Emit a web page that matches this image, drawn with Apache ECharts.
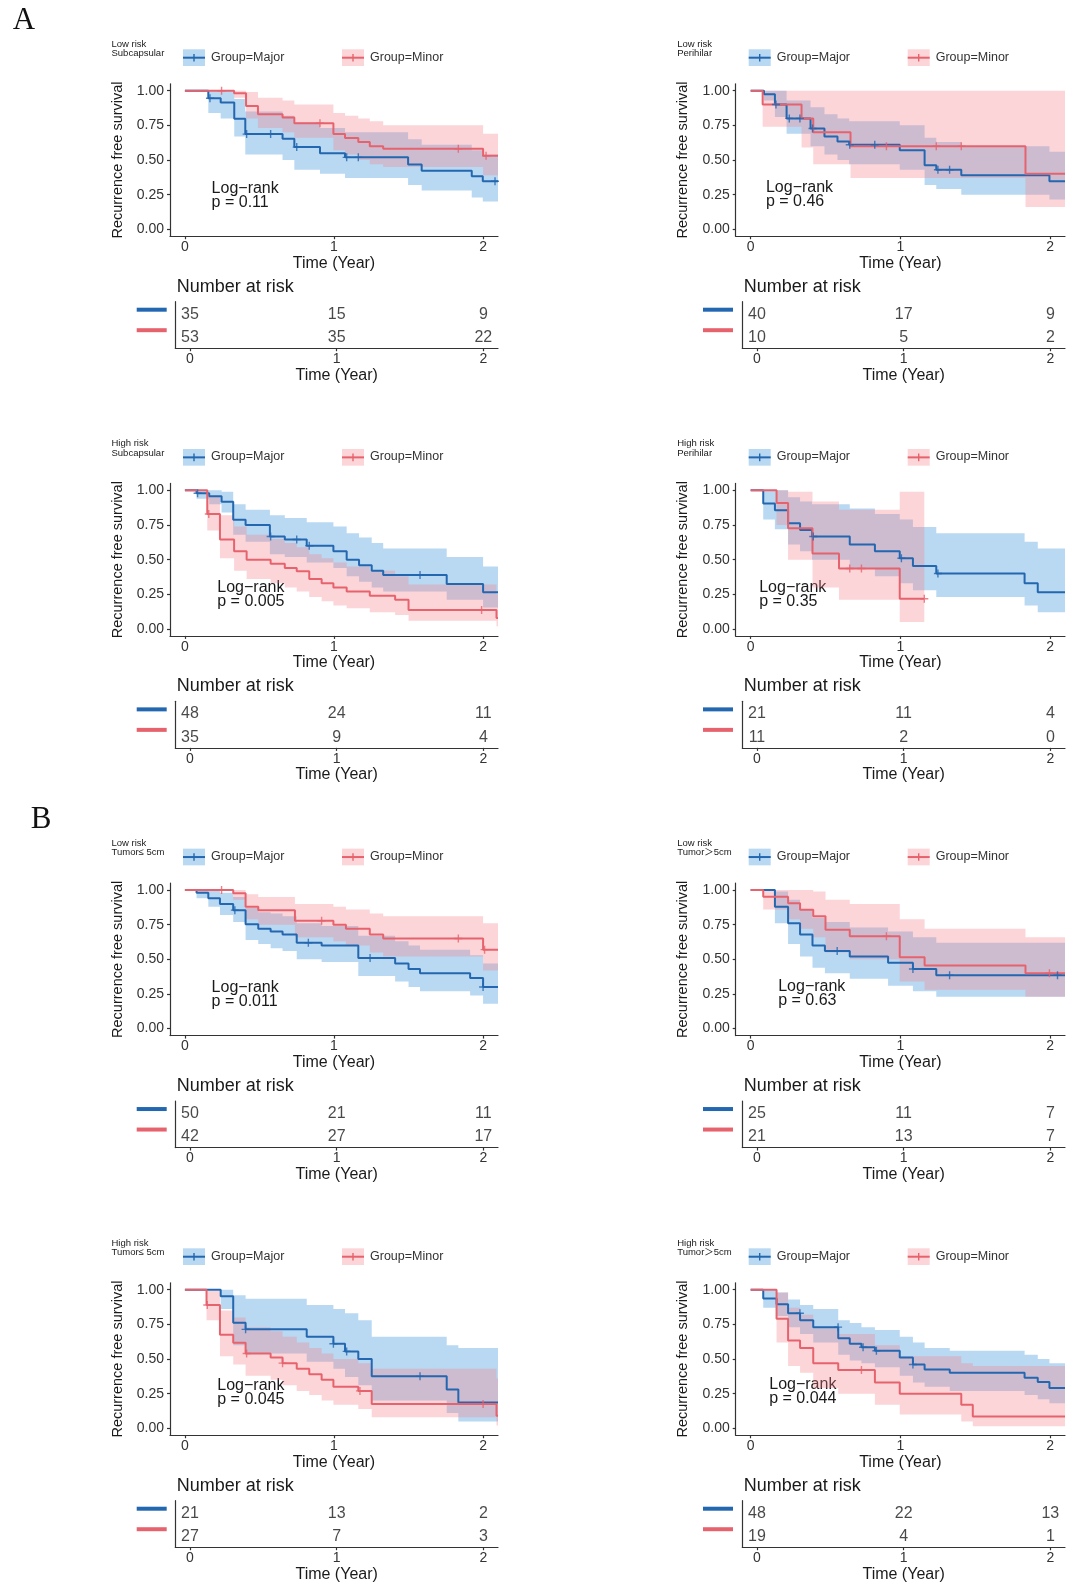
<!DOCTYPE html>
<html>
<head>
<meta charset="utf-8">
<script src="https://cdn.jsdelivr.net/npm/echarts@6/dist/echarts.min.js"></script>
<style>html,body{margin:0;padding:0;background:#fff}#c{width:1080px;height:1591px}</style>
</head>
<body>
<div id="c"></div>
<script>
// ---------------- DATA ----------------
const timeTicks = [0, 1, 2];
const survTicks = [0, 0.25, 0.5, 0.75, 1];
const riskGroups = ['Major', 'Minor'];
const subtitles = [
  ['Low risk', 'Subcapsular'], ['Low risk', 'Perihilar'],
  ['High risk', 'Subcapsular'], ['High risk', 'Perihilar'],
  ['Low risk', 'Tumor\u2264 5cm'], ['Low risk', 'Tumor\uff1e5cm'],
  ['High risk', 'Tumor\u2264 5cm'], ['High risk', 'Tumor\uff1e5cm']
];
const pValues = ['0.11', '0.46', '0.005', '0.35', '0.011', '0.63', '0.045', '0.044'];

// Panel 1: Low risk, Subcapsular
const p1MajorTime  = [0, 0.157, 0.24, 0.331, 0.405, 0.655, 0.734, 0.906, 1.074, 1.497, 1.588, 1.924, 1.998, 2.1];
const p1MajorSurv  = [1, 0.945, 0.914, 0.797, 0.687, 0.653, 0.593, 0.548, 0.519, 0.467, 0.423, 0.383, 0.347, 0.347];
const p1MajorLower = [1, 0.84, 0.80, 0.67, 0.54, 0.50, 0.43, 0.40, 0.37, 0.32, 0.28, 0.23, 0.20, 0.20];
const p1MajorUpper = [1, 1, 1, 0.94, 0.85, 0.82, 0.77, 0.73, 0.70, 0.65, 0.61, 0.57, 0.54, 0.54];
const p1MajorCensor = [0.168, 0.414, 0.575, 0.75, 1.085, 1.163, 2.08];
const p1MinorTime  = [0, 0.33, 0.41, 0.49, 0.655, 0.734, 0.996, 1.074, 1.163, 1.24, 1.33, 2.0, 2.1];
const p1MinorSurv  = [1, 0.981, 0.89, 0.83, 0.806, 0.766, 0.687, 0.658, 0.63, 0.60, 0.581, 0.531, 0.531];
const p1MinorLower = [1, 0.95, 0.80, 0.73, 0.70, 0.66, 0.57, 0.54, 0.50, 0.47, 0.45, 0.39, 0.39];
const p1MinorUpper = [1, 1, 0.99, 0.95, 0.93, 0.90, 0.84, 0.82, 0.80, 0.78, 0.75, 0.69, 0.69];
const p1MinorCensor = [0.246, 0.906, 1.834, 2.02];
const p1MajorRisk = [35, 15, 9];
const p1MinorRisk = [53, 35, 22];

// Panel 2: Low risk, Perihilar
const p2MajorTime  = [0, 0.089, 0.162, 0.24, 0.40, 0.493, 0.58, 0.658, 0.996, 1.162, 1.24, 1.407, 1.996, 2.1];
const p2MajorSurv  = [1, 0.975, 0.90, 0.80, 0.727, 0.67, 0.634, 0.61, 0.57, 0.462, 0.43, 0.39, 0.347, 0.347];
const p2MajorLower = [1, 0.93, 0.81, 0.69, 0.60, 0.54, 0.50, 0.47, 0.43, 0.32, 0.29, 0.25, 0.215, 0.215];
const p2MajorUpper = [1, 1, 1, 0.93, 0.88, 0.83, 0.80, 0.78, 0.75, 0.66, 0.63, 0.60, 0.56, 0.56];
const p2MajorCensor = [0.169, 0.258, 0.329, 0.413, 0.662, 0.829, 1.251, 1.329];
const p2MinorTime  = [0, 0.08, 0.34, 0.418, 0.667, 1.836, 2.1];
const p2MinorSurv  = [1, 0.90, 0.80, 0.70, 0.60, 0.40, 0.40];
const p2MinorLower = [1, 0.74, 0.59, 0.47, 0.37, 0.16, 0.16];
const p2MinorUpper = [1, 1, 1, 1, 1, 1, 1];
const p2MinorCensor = [0.907, 1.24, 1.407];
const p2MajorRisk = [40, 17, 9];
const p2MinorRisk = [10, 5, 2];

// Panel 3: High risk, Subcapsular
const p3MajorTime  = [0, 0.078, 0.163, 0.246, 0.324, 0.407, 0.57, 0.67, 0.817, 0.996, 1.085, 1.168, 1.253, 1.33, 1.756, 2.0, 2.1];
const p3MajorSurv  = [1, 0.979, 0.958, 0.917, 0.788, 0.75, 0.667, 0.646, 0.60, 0.56, 0.50, 0.46, 0.42, 0.39, 0.325, 0.265, 0.265];
const p3MajorLower = [1, 0.94, 0.90, 0.84, 0.68, 0.63, 0.54, 0.52, 0.48, 0.44, 0.38, 0.34, 0.30, 0.27, 0.21, 0.155, 0.155];
const p3MajorUpper = [1, 1, 1, 0.99, 0.90, 0.86, 0.82, 0.80, 0.77, 0.74, 0.69, 0.66, 0.62, 0.58, 0.52, 0.45, 0.45];
const p3MajorCensor = [0.085, 0.575, 0.75, 0.834, 1.577];
const p3MinorTime  = [0, 0.15, 0.235, 0.33, 0.414, 0.575, 0.67, 0.75, 0.834, 0.917, 0.996, 1.085, 1.24, 1.41, 1.5, 2.09, 2.1];
const p3MinorSurv  = [1, 0.83, 0.646, 0.56, 0.50, 0.47, 0.44, 0.417, 0.36, 0.33, 0.30, 0.27, 0.24, 0.21, 0.137, 0.08, 0.08];
const p3MinorLower = [1, 0.71, 0.51, 0.42, 0.36, 0.33, 0.30, 0.27, 0.23, 0.20, 0.17, 0.15, 0.12, 0.10, 0.06, 0.02, 0.02];
const p3MinorUpper = [1, 0.96, 0.82, 0.74, 0.68, 0.65, 0.62, 0.59, 0.54, 0.51, 0.48, 0.45, 0.42, 0.38, 0.32, 0.25, 0.25];
const p3MinorCensor = [0.16, 1.99];
const p3MajorRisk = [48, 24, 11];
const p3MinorRisk = [35, 9, 4];

// Panel 4: High risk, Perihilar
const p4MajorTime  = [0, 0.084, 0.162, 0.25, 0.33, 0.41, 0.662, 0.83, 0.996, 1.084, 1.24, 1.83, 1.918, 2.1];
const p4MajorSurv  = [1, 0.905, 0.857, 0.762, 0.714, 0.667, 0.61, 0.56, 0.51, 0.455, 0.40, 0.33, 0.265, 0.265];
const p4MajorLower = [1, 0.79, 0.72, 0.61, 0.56, 0.50, 0.44, 0.38, 0.33, 0.28, 0.23, 0.17, 0.12, 0.12];
const p4MajorUpper = [1, 1, 1, 0.95, 0.92, 0.90, 0.87, 0.83, 0.79, 0.735, 0.69, 0.63, 0.58, 0.58];
const p4MajorCensor = [0.418, 1.007, 1.251];
const p4MinorTime  = [0, 0.173, 0.25, 0.413, 0.59, 0.996, 1.16];
const p4MinorSurv  = [1, 0.909, 0.727, 0.545, 0.436, 0.218, 0.218];
const p4MinorLower = [1, 0.75, 0.50, 0.30, 0.21, 0.05, 0.05];
const p4MinorUpper = [1, 1, 0.99, 0.92, 0.86, 0.99, 0.99];
const p4MinorCensor = [0.662, 0.74, 1.16];
const p4MajorRisk = [21, 11, 4];
const p4MinorRisk = [11, 2, 0];

// Panel 5: Low risk, Tumor <= 5cm
const p5MajorTime  = [0, 0.078, 0.157, 0.235, 0.324, 0.407, 0.492, 0.575, 0.655, 0.75, 0.917, 1.163, 1.41, 1.5, 1.577, 1.913, 2.0, 2.1];
const p5MajorSurv  = [1, 0.98, 0.94, 0.90, 0.855, 0.754, 0.72, 0.70, 0.68, 0.62, 0.60, 0.51, 0.47, 0.43, 0.40, 0.365, 0.30, 0.30];
const p5MajorLower = [1, 0.94, 0.88, 0.82, 0.77, 0.64, 0.61, 0.58, 0.56, 0.50, 0.48, 0.38, 0.34, 0.30, 0.27, 0.24, 0.18, 0.18];
const p5MajorUpper = [1, 1, 1, 0.98, 0.95, 0.87, 0.84, 0.83, 0.81, 0.76, 0.74, 0.67, 0.63, 0.60, 0.57, 0.53, 0.47, 0.47];
const p5MajorCensor = [0.335, 0.828, 1.242, 2.0];
const p5MinorTime  = [0, 0.324, 0.407, 0.492, 0.738, 0.996, 1.08, 1.24, 1.33, 2.0, 2.1];
const p5MinorSurv  = [1, 0.976, 0.88, 0.855, 0.778, 0.75, 0.72, 0.68, 0.65, 0.57, 0.57];
const p5MinorLower = [1, 0.93, 0.79, 0.75, 0.66, 0.63, 0.60, 0.55, 0.52, 0.42, 0.42];
const p5MinorUpper = [1, 1, 0.97, 0.95, 0.90, 0.88, 0.86, 0.83, 0.81, 0.76, 0.76];
const p5MinorCensor = [0.246, 0.917, 1.834, 2.01];
const p5MajorRisk = [50, 21, 11];
const p5MinorRisk = [42, 27, 17];

// Panel 6: Low risk, Tumor > 5cm
const p6MajorTime  = [0, 0.162, 0.25, 0.33, 0.413, 0.496, 0.662, 0.918, 1.084, 1.24, 2.1];
const p6MajorSurv  = [1, 0.88, 0.76, 0.68, 0.60, 0.56, 0.52, 0.475, 0.43, 0.385, 0.385];
const p6MajorLower = [1, 0.76, 0.61, 0.52, 0.44, 0.40, 0.36, 0.31, 0.27, 0.23, 0.23];
const p6MajorUpper = [1, 0.99, 0.93, 0.86, 0.80, 0.77, 0.73, 0.70, 0.66, 0.62, 0.62];
const p6MajorCensor = [0.578, 1.084, 1.329, 2.05];
const p6MinorTime  = [0, 0.084, 0.25, 0.33, 0.418, 0.5, 0.662, 0.996, 1.162, 1.836, 2.1];
const p6MinorSurv  = [1, 0.952, 0.905, 0.857, 0.81, 0.714, 0.667, 0.515, 0.455, 0.40, 0.40];
const p6MinorLower = [1, 0.86, 0.79, 0.72, 0.66, 0.55, 0.50, 0.34, 0.28, 0.23, 0.23];
const p6MinorUpper = [1, 1, 1, 1, 0.99, 0.93, 0.90, 0.79, 0.72, 0.66, 0.66];
const p6MinorCensor = [0.907, 1.996];
const p6MajorRisk = [25, 11, 7];
const p6MinorRisk = [21, 13, 7];

// Panel 7: High risk, Tumor <= 5cm
const p7MajorTime  = [0, 0.24, 0.324, 0.407, 0.817, 0.996, 1.074, 1.163, 1.253, 1.756, 1.834, 2.1];
const p7MajorSurv  = [1, 0.952, 0.762, 0.714, 0.66, 0.61, 0.555, 0.50, 0.375, 0.28, 0.187, 0.187];
const p7MajorLower = [1, 0.86, 0.60, 0.54, 0.48, 0.43, 0.37, 0.31, 0.20, 0.11, 0.05, 0.05];
const p7MajorUpper = [1, 1, 0.96, 0.935, 0.89, 0.86, 0.83, 0.78, 0.66, 0.60, 0.58, 0.58];
const p7MajorCensor = [0.407, 0.996, 1.085, 1.577];
const p7MinorTime  = [0, 0.145, 0.235, 0.324, 0.407, 0.575, 0.655, 0.75, 0.834, 0.917, 0.996, 1.163, 1.253, 2.09, 2.1];
const p7MinorSurv  = [1, 0.89, 0.675, 0.617, 0.54, 0.51, 0.47, 0.43, 0.39, 0.35, 0.30, 0.27, 0.176, 0.09, 0.09];
const p7MinorLower = [1, 0.78, 0.52, 0.46, 0.38, 0.35, 0.31, 0.27, 0.24, 0.20, 0.17, 0.14, 0.08, 0.02, 0.02];
const p7MinorUpper = [1, 0.99, 0.85, 0.80, 0.73, 0.70, 0.66, 0.62, 0.58, 0.54, 0.50, 0.47, 0.43, 0.36, 0.36];
const p7MinorCensor = [0.15, 0.414, 0.655, 1.174, 2.0];
const p7MajorRisk = [21, 13, 2];
const p7MinorRisk = [27, 7, 3];

// Panel 8: High risk, Tumor > 5cm
const p8MajorTime  = [0, 0.084, 0.173, 0.25, 0.33, 0.418, 0.585, 0.662, 0.74, 0.83, 0.996, 1.084, 1.162, 1.33, 1.83, 1.918, 1.996, 2.1];
const p8MajorSurv  = [1, 0.936, 0.895, 0.83, 0.78, 0.73, 0.65, 0.61, 0.585, 0.56, 0.51, 0.46, 0.425, 0.40, 0.365, 0.335, 0.29, 0.29];
const p8MajorLower = [1, 0.87, 0.81, 0.73, 0.68, 0.62, 0.53, 0.49, 0.47, 0.44, 0.38, 0.33, 0.30, 0.27, 0.24, 0.21, 0.18, 0.18];
const p8MajorUpper = [1, 1, 0.98, 0.93, 0.89, 0.86, 0.78, 0.76, 0.73, 0.71, 0.66, 0.62, 0.58, 0.56, 0.53, 0.50, 0.47, 0.47];
const p8MajorCensor = [0.329, 0.584, 0.751, 0.84, 1.084];
const p8MinorTime  = [0, 0.173, 0.25, 0.33, 0.418, 0.585, 0.83, 0.996, 1.407, 1.484, 2.1];
const p8MinorSurv  = [1, 0.79, 0.634, 0.58, 0.47, 0.42, 0.33, 0.25, 0.17, 0.085, 0.085];
const p8MinorLower = [1, 0.62, 0.45, 0.40, 0.29, 0.25, 0.17, 0.10, 0.05, 0.015, 0.015];
const p8MinorUpper = [1, 0.98, 0.87, 0.82, 0.72, 0.68, 0.60, 0.52, 0.47, 0.45, 0.45];
const p8MinorCensor = [0.74];
const p8MajorRisk = [48, 22, 13];
const p8MinorRisk = [19, 4, 1];

// Log-rank annotation anchors, in data coordinates (time, survival)
const logRankAnchors = [[0.179, 0.289], [0.102, 0.296], [0.217, 0.291], [0.057, 0.291],
                        [0.179, 0.291], [0.184, 0.298], [0.217, 0.298], [0.124, 0.305]];

// ---------------- ASSEMBLY ----------------
const curves = [
  [[p1MajorTime, p1MajorSurv, p1MajorLower, p1MajorUpper, p1MajorCensor], [p1MinorTime, p1MinorSurv, p1MinorLower, p1MinorUpper, p1MinorCensor]],
  [[p2MajorTime, p2MajorSurv, p2MajorLower, p2MajorUpper, p2MajorCensor], [p2MinorTime, p2MinorSurv, p2MinorLower, p2MinorUpper, p2MinorCensor]],
  [[p3MajorTime, p3MajorSurv, p3MajorLower, p3MajorUpper, p3MajorCensor], [p3MinorTime, p3MinorSurv, p3MinorLower, p3MinorUpper, p3MinorCensor]],
  [[p4MajorTime, p4MajorSurv, p4MajorLower, p4MajorUpper, p4MajorCensor], [p4MinorTime, p4MinorSurv, p4MinorLower, p4MinorUpper, p4MinorCensor]],
  [[p5MajorTime, p5MajorSurv, p5MajorLower, p5MajorUpper, p5MajorCensor], [p5MinorTime, p5MinorSurv, p5MinorLower, p5MinorUpper, p5MinorCensor]],
  [[p6MajorTime, p6MajorSurv, p6MajorLower, p6MajorUpper, p6MajorCensor], [p6MinorTime, p6MinorSurv, p6MinorLower, p6MinorUpper, p6MinorCensor]],
  [[p7MajorTime, p7MajorSurv, p7MajorLower, p7MajorUpper, p7MajorCensor], [p7MinorTime, p7MinorSurv, p7MinorLower, p7MinorUpper, p7MinorCensor]],
  [[p8MajorTime, p8MajorSurv, p8MajorLower, p8MajorUpper, p8MajorCensor], [p8MinorTime, p8MinorSurv, p8MinorLower, p8MinorUpper, p8MinorCensor]]
];
const risks = [
  [p1MajorRisk, p1MinorRisk], [p2MajorRisk, p2MinorRisk], [p3MajorRisk, p3MinorRisk], [p4MajorRisk, p4MinorRisk],
  [p5MajorRisk, p5MinorRisk], [p6MajorRisk, p6MinorRisk], [p7MajorRisk, p7MinorRisk], [p8MajorRisk, p8MinorRisk]
];

const FONT = "'Liberation Sans', Arial, Helvetica, sans-serif";
const TXT = '#1a1a1a';
const AXC = '#333333';
const LINE_COLORS = ['#2367B0', '#E6636D'];
const BAND_COLORS = ['rgba(80,158,222,0.40)', 'rgba(246,128,140,0.33)'];
const PLUS = 'path://M3.3,0H4.7V3.3H8V4.7H4.7V8H3.3V4.7H0V3.3H3.3Z';

const COLS = [
  { kmLeft: 170, kmRight: 498, riskLeft: 175.3, riskRight: 498, dashL: 136.7 },
  { kmLeft: 735.7, kmRight: 1065, riskLeft: 742.3, riskRight: 1065, dashL: 703 }
];
const ROW0 = 90.7, ROWSTEP = 399.67, UNIT = 138.6;
const XMIN = -0.1, XMAX = 2.1, YMIN = -0.05, YMAX = 1.05;

function stepValue(t, s, x) {
  let v = s[0];
  for (let i = 0; i < t.length; i++) if (t[i] <= x) v = s[i];
  return v;
}

const grids = [], xAxes = [], yAxes = [], series = [];
const axisLineStyle = { color: AXC, width: 1.2 };

for (let p = 0; p < 8; p++) {
  const col = COLS[p % 2];
  const y1 = ROW0 + Math.floor(p / 2) * ROWSTEP;
  const kmG = p * 2, rkG = p * 2 + 1;
  grids.push({ left: col.kmLeft, top: y1 - 0.05 * UNIT, width: col.kmRight - col.kmLeft, height: 1.1 * UNIT, outerBoundsMode: 'none', containLabel: false });
  grids.push({ left: col.riskLeft, top: y1 + 211, width: col.riskRight - col.riskLeft, height: 46.5, outerBoundsMode: 'none', containLabel: false });

  xAxes.push({
    type: 'value', gridIndex: kmG, min: XMIN, max: XMAX,
    axisLine: { show: true, onZero: false, lineStyle: axisLineStyle },
    axisTick: { show: true, length: 3, customValues: timeTicks, lineStyle: axisLineStyle },
    axisLabel: { customValues: timeTicks, margin: 4, fontSize: 14, color: AXC, fontFamily: FONT },
    splitLine: { show: false },
    name: 'Time (Year)', nameLocation: 'middle', nameGap: 17,
    nameTextStyle: { fontSize: 16, color: TXT, fontFamily: FONT }
  });
  yAxes.push({
    type: 'value', gridIndex: kmG, min: YMIN, max: YMAX,
    axisLine: { show: true, onZero: false, lineStyle: axisLineStyle },
    axisTick: { show: true, length: 3, customValues: survTicks, lineStyle: axisLineStyle },
    axisLabel: { customValues: survTicks, margin: 6, fontSize: 14, color: AXC, fontFamily: FONT, formatter: v => Number(v).toFixed(2) },
    splitLine: { show: false },
    name: 'Recurrence free survival', nameLocation: 'middle', nameRotate: 90, nameGap: 45,
    nameTextStyle: { fontSize: 14.5, color: TXT, fontFamily: FONT }
  });
  xAxes.push({
    type: 'value', gridIndex: rkG, min: XMIN, max: XMAX,
    axisLine: { show: true, onZero: false, lineStyle: axisLineStyle },
    axisTick: { show: true, length: 3, customValues: timeTicks, lineStyle: axisLineStyle },
    axisLabel: { customValues: timeTicks, margin: 4, fontSize: 14, color: AXC, fontFamily: FONT },
    splitLine: { show: false },
    name: 'Time (Year)', nameLocation: 'middle', nameGap: 18,
    nameTextStyle: { fontSize: 16, color: TXT, fontFamily: FONT }
  });
  yAxes.push({
    type: 'category', gridIndex: rkG, data: riskGroups, inverse: true,
    axisLine: { show: true, onZero: false, lineStyle: axisLineStyle },
    axisTick: { show: false },
    axisLabel: { show: false },
    splitLine: { show: false }
  });

  // bands first (Major then Minor), then lines, then censor marks
  for (let g = 0; g < 2; g++) {
    const [t, s, lo, hi] = curves[p][g];
    series.push({
      type: 'custom', xAxisIndex: kmG, yAxisIndex: kmG, silent: true, z: 1 + g,
      data: [[t[0], s[0]]],
      renderItem: (params, api) => {
        const pts = [];
        for (let i = 0; i < t.length - 1; i++) { pts.push(api.coord([t[i], hi[i]])); pts.push(api.coord([t[i + 1], hi[i]])); }
        for (let i = t.length - 2; i >= 0; i--) { pts.push(api.coord([t[i + 1], lo[i]])); pts.push(api.coord([t[i], lo[i]])); }
        return { type: 'polygon', shape: { points: pts }, style: { fill: BAND_COLORS[g] } };
      }
    });
  }
  for (let g = 0; g < 2; g++) {
    const [t, s, , , cens] = curves[p][g];
    series.push({
      type: 'line', xAxisIndex: kmG, yAxisIndex: kmG, step: 'end', symbol: 'none', silent: true, z: 5,
      lineStyle: { color: LINE_COLORS[g], width: 2 },
      data: t.map((x, i) => [x, s[i]])
    });
    series.push({
      type: 'scatter', xAxisIndex: kmG, yAxisIndex: kmG, symbol: PLUS, symbolSize: 8, silent: true, z: 6,
      itemStyle: { color: LINE_COLORS[g] },
      data: cens.map(c => [c, stepValue(t, s, c)])
    });
  }
  // risk table numbers
  const riskData = [];
  for (let g = 0; g < 2; g++) timeTicks.forEach((x, i) => riskData.push([x, g, risks[p][g][i]]));
  series.push({
    type: 'scatter', xAxisIndex: rkG, yAxisIndex: rkG, symbolSize: 1, silent: true,
    itemStyle: { color: 'rgba(0,0,0,0)' },
    data: riskData,
    label: { show: true, position: 'inside', offset: [0, 1], formatter: q => String(q.value[2]), fontSize: 16, color: TXT, fontFamily: FONT }
  });
}

const chart = echarts.init(document.getElementById('c'), null, { renderer: 'canvas' });
chart.setOption({
  backgroundColor: '#ffffff',
  animation: false,
  grid: grids, xAxis: xAxes, yAxis: yAxes, series: series
});

// ---------------- annotations / legends ----------------
const graphics = [];
graphics.push({ type: 'text', x: 24, y: 21, style: { text: 'A', fontSize: 31, fontFamily: "'Liberation Serif', 'Times New Roman', serif", fill: '#111', align: 'center', verticalAlign: 'middle' } });
graphics.push({ type: 'text', x: 41, y: 820, style: { text: 'B', fontSize: 31, fontFamily: "'Liberation Serif', 'Times New Roman', serif", fill: '#111', align: 'center', verticalAlign: 'middle' } });

for (let p = 0; p < 8; p++) {
  const col = COLS[p % 2];
  const ax = col.kmLeft;
  const y1 = ROW0 + Math.floor(p / 2) * ROWSTEP;
  // subtitle
  graphics.push({ type: 'text', x: ax - 58.5, y: y1 - 46.7, style: { text: subtitles[p][0], fontSize: 9.5, fontFamily: FONT, fill: TXT, align: 'left', verticalAlign: 'middle' } });
  graphics.push({ type: 'text', x: ax - 58.5, y: y1 - 37.2, style: { text: subtitles[p][1], fontSize: 9.5, fontFamily: FONT + ", 'Noto Sans CJK SC'", fill: TXT, align: 'left', verticalAlign: 'middle' } });
  // legend keys
  const keys = [[ax + 13, 'Group=Major'], [ax + 172, 'Group=Minor']];
  keys.forEach(([kx, label], g) => {
    graphics.push({ type: 'rect', shape: { x: kx, y: y1 - 41.4, width: 22, height: 16.7 }, style: { fill: BAND_COLORS[g] } });
    graphics.push({ type: 'line', shape: { x1: kx, y1: y1 - 33, x2: kx + 22, y2: y1 - 33 }, style: { stroke: LINE_COLORS[g], lineWidth: 2 } });
    graphics.push({ type: 'line', shape: { x1: kx + 11, y1: y1 - 36.8, x2: kx + 11, y2: y1 - 29.2 }, style: { stroke: LINE_COLORS[g], lineWidth: 1.4 } });
    graphics.push({ type: 'text', x: kx + 28, y: y1 - 33.4, style: { text: label, fontSize: 12.5, fontFamily: FONT, fill: '#333', align: 'left', verticalAlign: 'middle' } });
  });
  // log-rank annotation
  const a = chart.convertToPixel({ gridIndex: p * 2 }, logRankAnchors[p]);
  graphics.push({ type: 'text', x: a[0], y: a[1] - 8, style: { text: 'Log\u2212rank\np = ' + pValues[p], fontSize: 16, lineHeight: 14, fontFamily: FONT, fill: TXT, align: 'left', verticalAlign: 'top' } });
  // risk table title
  graphics.push({ type: 'text', x: col.riskLeft + 1.5, y: y1 + 196, style: { text: 'Number at risk', fontSize: 18, fontFamily: FONT, fill: TXT, align: 'left', verticalAlign: 'middle' } });
  // risk table group keys (coloured strata labels)
  graphics.push({ type: 'rect', shape: { x: col.dashL, y: y1 + 217, width: 30, height: 4 }, style: { fill: LINE_COLORS[0] } });
  graphics.push({ type: 'rect', shape: { x: col.dashL, y: y1 + 237.5, width: 30, height: 4 }, style: { fill: LINE_COLORS[1] } });
}
chart.setOption({ graphic: graphics });
</script>
</body>
</html>
